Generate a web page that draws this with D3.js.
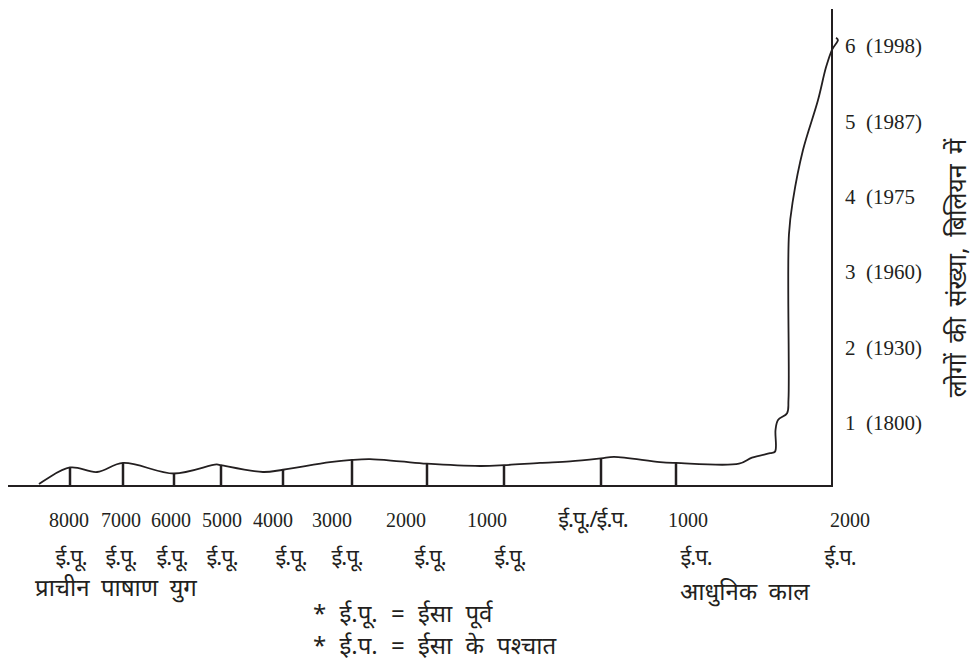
<!DOCTYPE html>
<html lang="hi">
<head>
<meta charset="UTF-8">
<title>जनसंख्या वृद्धि</title>
<style>
    body { margin: 0; background: #fff; }
    svg { display: block; }
    .num { font-family: "Liberation Serif", "Times New Roman", serif; font-size: 20px; fill: #231f20; white-space: pre; }
    .hi { font-family: "Noto Sans", sans-serif; font-size: 24px; fill: #231f20; word-spacing: 5px; }
    .era { font-family: "Noto Sans", sans-serif; font-size: 22px; fill: #231f20; letter-spacing: -1px; }
    .axis-line { stroke: #231f20; stroke-width: 2; }
    .drop { stroke: #231f20; stroke-width: 2.5; }
    .curve { fill: none; stroke: #231f20; stroke-width: 1.8; }
</style>
</head>
<body>
<svg id="chart" width="974" height="661"></svg>
<script src="https://d3js.org/d3.v7.min.js"></script>
<script>
// tick years (negative = ई.पू.)
const tickYears = [-8000, -7000, -6000, -5000, -4000, -3000, -2000, -1000, 0, 1000, 2000];
const yearLabels = ["8000", "7000", "6000", "5000", "4000", "3000", "2000", "1000", "ई.पू./ई.प.", "1000", "2000"];
const eraLabels = ["ई.पू.", "ई.पू.", "ई.पू.", "ई.पू.", "ई.पू.", "ई.पू.", "ई.पू.", "ई.पू.", "", "ई.प.", "ई.प."];
// population ticks, billions
const popTicks = [1, 2, 3, 4, 5, 6];
const popLabels = ["1  (1800)", "2  (1930)", "3  (1960)", "4  (1975", "5  (1987)", "6  (1998)"];

// curve: year, billions (chart units)
const curveYears = [-8585, -8000, -7490, -7000, -6000, -5092, -5000, -4323, -4000, -3319, -3000, -2760, -2360, -2000,
    -1312, -1000, -629, -320, 0, 173, 787, 1000, 1404, 1487, 1603, 1635, 1638, 1654, 1712, 1721, 1724, 1750,
    1814, 1910, 1962, 2000, 2038, 2026];
const curveValues = [0.19, 0.41, 0.35, 0.47, 0.33, 0.45, 0.44, 0.35, 0.38, 0.48, 0.51, 0.52, 0.49, 0.46,
    0.43, 0.44, 0.47, 0.49, 0.53, 0.55, 0.48, 0.47, 0.46, 0.54, 0.60, 0.62, 0.91, 1.04, 1.13, 1.31, 3.50, 3.96,
    4.62, 5.28, 5.72, 5.95, 6.08, 6.11];

// label nudges (px) so the text sits as in the print
const yearShift = [-1, -2, -3, 1, -10, -20, -21, -17, -8, 12, 18];
const eraShift = [1, -2, -2, 1, 8, -5, 3, 6, 0, 20, 8];

const svg = d3.select("#chart");
const baseY = 486;
const axisX = 832;

// uneven spacing of the printed time axis -> piecewise linear scale
const x = d3.scaleLinear()
    .domain(tickYears)
    .range([70, 123, 174, 221, 283, 352, 427, 504, 601, 676, 832]);
const y = d3.scaleLinear().domain([0, 6]).range([498.4, 46]);

const pts = curveYears.map((yr, i) => ({ year: yr, v: curveValues[i] }));

// axes
svg.append("line").attr("class", "axis-line")
    .attr("x1", 8).attr("x2", axisX + 1).attr("y1", baseY).attr("y2", baseY);
svg.append("line").attr("class", "axis-line")
    .attr("x1", axisX).attr("x2", axisX).attr("y1", 9).attr("y2", baseY);

// drop lines from curve to base
const drops = tickYears.slice(0, -1).map(yr => pts.find(p => p.year === yr));
svg.append("g").selectAll("line")
    .data(drops)
    .join("line")
    .attr("class", "drop")
    .attr("x1", d => x(d.year)).attr("x2", d => x(d.year))
    .attr("y1", d => y(d.v)).attr("y2", baseY);

// curve
const line = d3.line()
    .x(d => x(d.year))
    .y(d => y(d.v))
    .curve(d3.curveCatmullRom.alpha(0.5));
svg.append("path").datum(pts).attr("class", "curve").attr("d", line);

// population labels on the right
const yAxis = svg.append("g")
    .attr("transform", `translate(${axisX},0)`)
    .call(d3.axisRight(y).tickValues(popTicks).tickSize(0).tickPadding(13)
        .tickFormat((d, i) => popLabels[i]));
yAxis.select(".domain").remove();
yAxis.attr("font-size", null).attr("font-family", null);
yAxis.selectAll("text").attr("class", "num").attr("fill", null).style("font-size", "21px");

svg.append("text").attr("class", "hi")
    .attr("transform", "translate(966,268) rotate(-90)")
    .attr("text-anchor", "middle")
    .style("font-size", "25px")
    .style("word-spacing", "4px")
    .text("लोगों की संख्या, बिलियन में");

// year labels
svg.append("g").selectAll("text")
    .data(tickYears)
    .join("text")
    .attr("class", (d, i) => i === 8 ? "era" : "num")
    .attr("x", (d, i) => x(d) + yearShift[i])
    .attr("y", 527)
    .attr("text-anchor", "middle")
    .text((d, i) => yearLabels[i]);

svg.append("g").selectAll("text")
    .data(tickYears)
    .join("text")
    .attr("class", "era")
    .attr("x", (d, i) => x(d) + eraShift[i])
    .attr("y", 565)
    .attr("text-anchor", "middle")
    .text((d, i) => eraLabels[i]);

svg.append("text").attr("class", "hi").attr("x", 35).attr("y", 596).text("प्राचीन पाषाण युग");
svg.append("text").attr("class", "hi").attr("x", 680).attr("y", 600).text("आधुनिक काल");
svg.append("text").attr("class", "hi").attr("x", 313).attr("y", 622).style("word-spacing", "7px").text("* ई.पू. = ईसा पूर्व");
svg.append("text").attr("class", "hi").attr("x", 313).attr("y", 654).style("word-spacing", "7px").text("* ई.प. = ईसा के पश्चात");
</script>
</body>
</html>
